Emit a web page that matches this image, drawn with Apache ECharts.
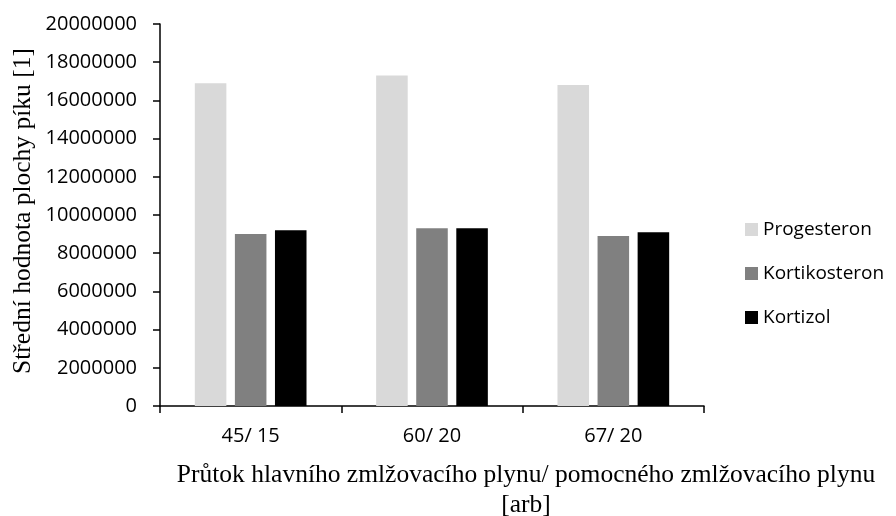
<!DOCTYPE html>
<html>
<head>
<meta charset="utf-8">
<script src="https://cdn.jsdelivr.net/npm/echarts@6/dist/echarts.min.js"></script>
<style>html,body{margin:0;padding:0;background:#fff;}#c{width:896px;height:516px;}</style>
</head>
<body>
<div id="c"></div>
<script>
const categories = ['45/ 15', '60/ 20', '67/ 20'];
const progesteron = [16900000, 17300000, 16800000];
const kortikosteron = [9000000, 9300000, 8900000];
const kortizol = [9200000, 9300000, 9100000];
const seriesNames = ['Progesteron', 'Kortikosteron', 'Kortizol'];
const yTitle = 'Střední hodnota plochy píku [1]';
const xTitle = 'Průtok hlavního zmlžovacího plynu/ pomocného zmlžovacího plynu\n[arb]';

const chart = echarts.init(document.getElementById('c'), null, {renderer: 'canvas'});
const labelFont = {fontFamily: 'Open Sans', fontSize: 20, color: '#000'};
const barCommon = {type: 'bar', barWidth: '17.4%', barGap: '27%'};
chart.setOption({
  animation: false,
  backgroundColor: '#fff',
  grid: {left: 160, right: 192, top: 24, bottom: 110, containLabel: false},
  legend: {
    orient: 'vertical', left: 745, top: 220, padding: 0,
    itemWidth: 13, itemHeight: 13, itemGap: 25,
    icon: 'rect',
    textStyle: {fontFamily: 'Open Sans', fontSize: 19, color: '#000'},
    data: seriesNames
  },
  xAxis: {
    type: 'category', data: categories, boundaryGap: true,
    axisLine: {lineStyle: {color: '#000', width: 1.5}},
    axisTick: {show: true, length: 7, lineStyle: {color: '#000', width: 1.5}},
    axisLabel: Object.assign({margin: 20}, labelFont)
  },
  yAxis: {
    type: 'value', min: 0, max: 20000000, interval: 2000000,
    axisLine: {show: true, lineStyle: {color: '#000', width: 1.5}},
    axisTick: {show: true, length: 7, lineStyle: {color: '#000', width: 1.5}},
    splitLine: {show: false},
    axisLabel: Object.assign({margin: 23, formatter: function (v) { return String(v); }}, labelFont)
  },
  graphic: [
    {type: 'text', x: 23, y: 211, rotation: Math.PI / 2,
     style: {text: yTitle, font: '25.5px "Liberation Serif"', fill: '#000', textAlign: 'center', textVerticalAlign: 'middle'}},
    {type: 'text', x: 526, y: 490,
     style: {text: xTitle, font: '25.5px "Liberation Serif"', fill: '#000', textAlign: 'center', textVerticalAlign: 'middle', lineHeight: 30}}
  ],
  series: [
    Object.assign({name: seriesNames[0], data: progesteron, itemStyle: {color: '#d9d9d9'}}, barCommon),
    Object.assign({name: seriesNames[1], data: kortikosteron, itemStyle: {color: '#808080'}}, barCommon),
    Object.assign({name: seriesNames[2], data: kortizol, itemStyle: {color: '#000000'}}, barCommon)
  ]
});
</script>
</body>
</html>
